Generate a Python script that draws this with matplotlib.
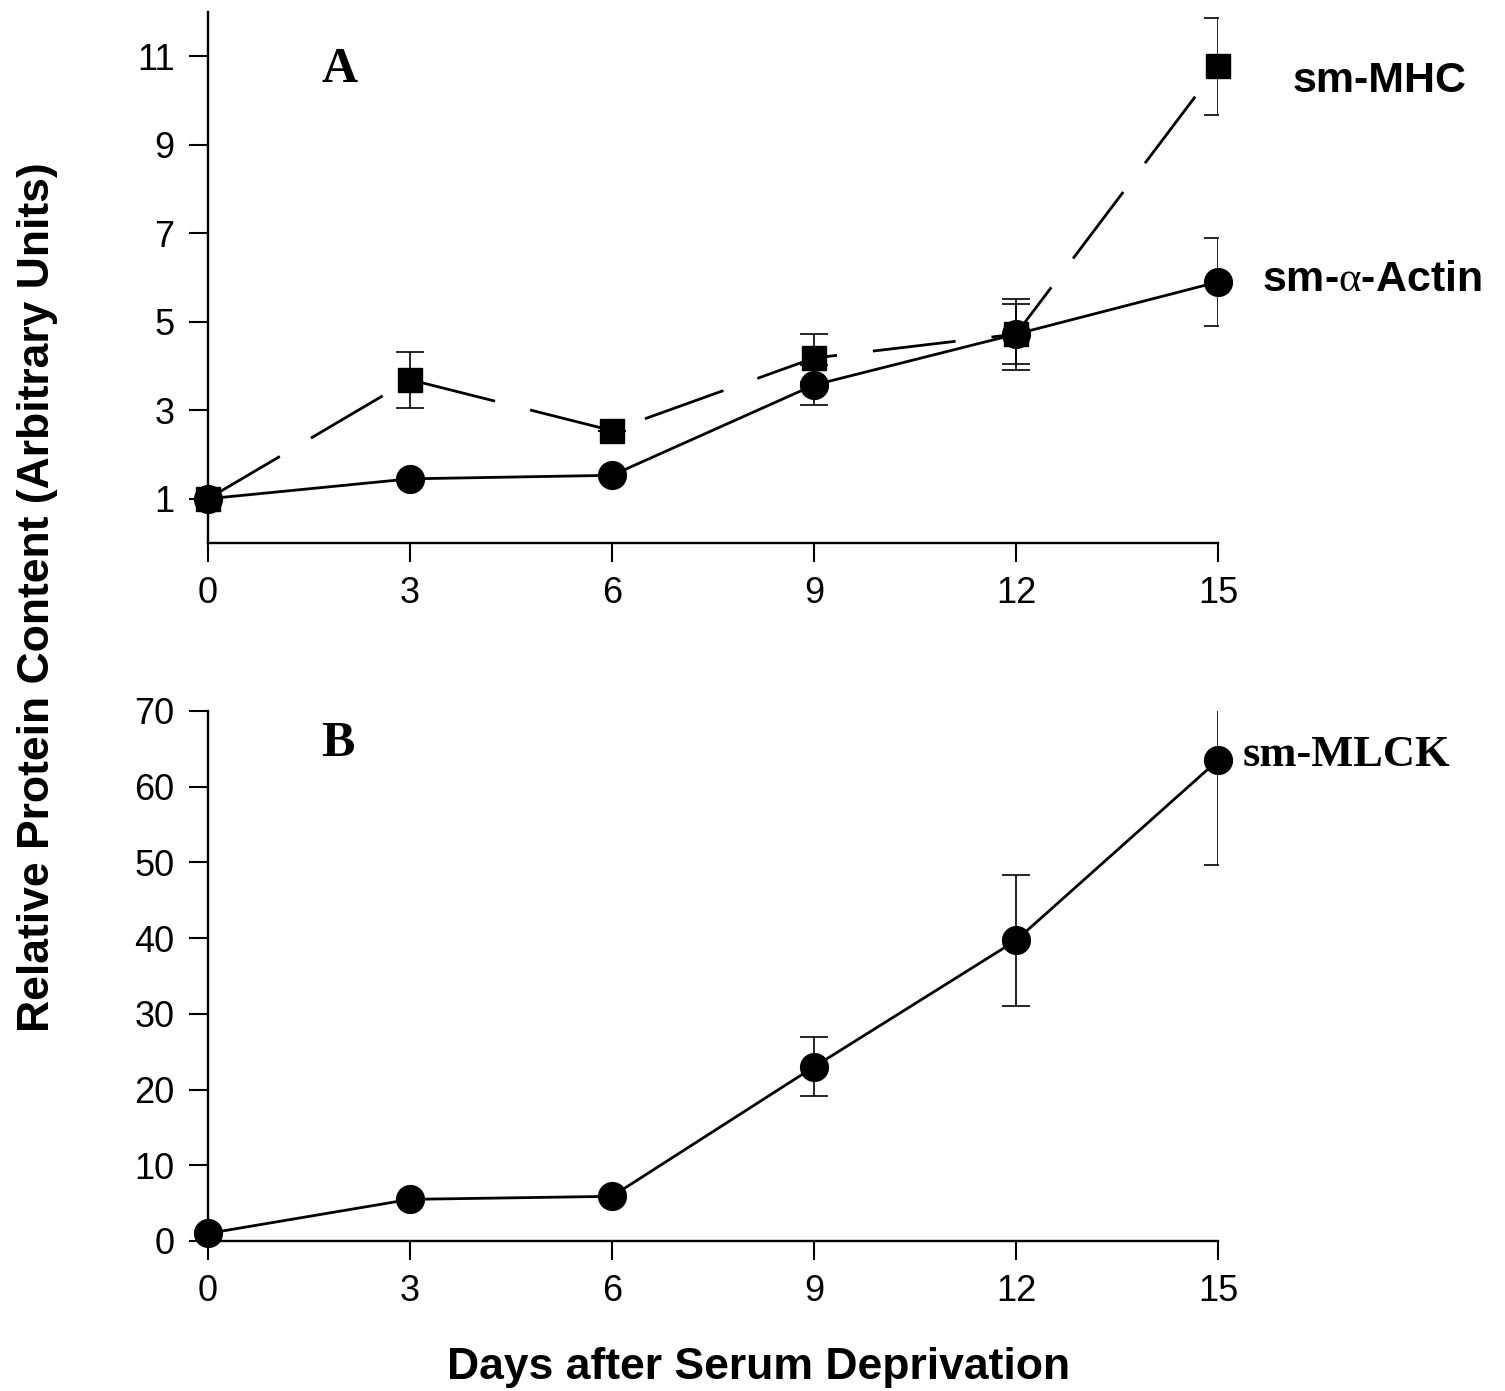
import matplotlib
matplotlib.use("Agg")
import matplotlib.pyplot as plt
from matplotlib import font_manager

# ---- data ----
days = [0, 3, 6, 9, 12, 15]
mhc = [1.0, 3.69, 2.54, 4.18, 4.72, 10.77]
mhc_err = [0, 0.63, 0, 0.55, 0.80, 1.09]
actin = [1.0, 1.45, 1.53, 3.57, 4.72, 5.90]
actin_err = [0, 0, 0, 0.45, 0.68, 1.0]
mlck = [1.0, 5.5, 5.9, 23.0, 39.7, 63.5]
mlck_err = [0, 0, 0, 3.9, 8.6, 13.8]
xticks = [0, 3, 6, 9, 12, 15]
yticks_a = [1, 3, 5, 7, 9, 11]
yticks_b = [0, 10, 20, 30, 40, 50, 60, 70]

names = {f.name for f in font_manager.fontManager.ttflist}
sans = "Liberation Sans" if "Liberation Sans" in names else "DejaVu Sans"
serif = "Liberation Serif" if "Liberation Serif" in names else "DejaVu Serif"
narrow = "Liberation Sans Narrow" if "Liberation Sans Narrow" in names else None

plt.rcParams["font.family"] = [sans, "DejaVu Sans"]
plt.rcParams["mathtext.fontset"] = "custom"
plt.rcParams["mathtext.rm"] = serif
plt.rcParams["mathtext.it"] = serif + ":italic"
plt.rcParams["mathtext.bf"] = serif + ":bold"

fig = plt.figure(figsize=(15.05, 13.91), dpi=100)
L, R = 208 / 1505, 1218 / 1505
axA = fig.add_axes([L, 1 - 543 / 1391, R - L, (543 - 12) / 1391])
axB = fig.add_axes([L, 1 - 1241 / 1391, R - L, (1241 - 711) / 1391])

def style(ax, yt, ylim):
    ax.set_xlim(0, 15)
    ax.set_ylim(*ylim)
    ax.set_xticks(xticks)
    ax.set_yticks(yt)
    for s in ["top", "right"]:
        ax.spines[s].set_visible(False)
    for s in ["left", "bottom"]:
        ax.spines[s].set_linewidth(1.7)
    ax.tick_params(direction="out", length=14, width=1.5, labelsize=26, pad=10)

lw = 2.0
ekw = dict(fmt="none", ecolor="black", elinewidth=1.2, capsize=10, capthick=1.2, zorder=2)
# Panel A
axA.errorbar(days, actin, yerr=actin_err, **ekw)
axA.errorbar(days, mhc, yerr=mhc_err, **ekw)
axA.plot(days, actin, color="black", lw=lw, marker="o", ms=20, clip_on=False, zorder=3)
axA.plot(days, mhc, color="black", lw=lw, ls=(0, (30, 13)), marker="s", ms=17.5,
         clip_on=False, zorder=4)
style(axA, yticks_a, (0, 12))
axA.text(1.96, 10.7, "A", fontsize=36, fontweight="bold", family=serif, ha="center", va="center")
axA.text(16.1, 10.45, "sm-MHC", fontsize=31, fontweight="bold", ha="left", va="center",
         clip_on=False)
axA.text(15.65, 5.95, r"sm-$\mathrm{\alpha}$-Actin", fontsize=31, fontweight="bold", ha="left",
         va="center", clip_on=False)

# Panel B
axB.errorbar(days, mlck, yerr=mlck_err, **ekw)
axB.plot(days, mlck, color="black", lw=lw, marker="o", ms=20, clip_on=False, zorder=3)
style(axB, yticks_b, (0, 70))
axB.text(1.93, 65.6, "B", fontsize=36, fontweight="bold", family=serif, ha="center", va="center")
axB.text(15.37, 64.2, "sm-MLCK", fontsize=32, fontweight="bold", family=serif, ha="left",
         va="center", clip_on=False)

lab_family = [narrow, "DejaVu Sans"] if narrow else [sans, "DejaVu Sans"]
lab_size = 36 if narrow else 32
fig.text(38 / 1505, 1 - 597 / 1391, "Relative Protein Content (Arbitrary Units)",
         rotation=90, ha="center", va="center", fontsize=lab_size, fontweight="bold",
         family=lab_family)
fig.text(759 / 1505, 1 - 1367 / 1391, "Days after Serum Deprivation",
         ha="center", va="center", fontsize=lab_size, fontweight="bold", family=lab_family)

fig.savefig("out.png", dpi=100)
